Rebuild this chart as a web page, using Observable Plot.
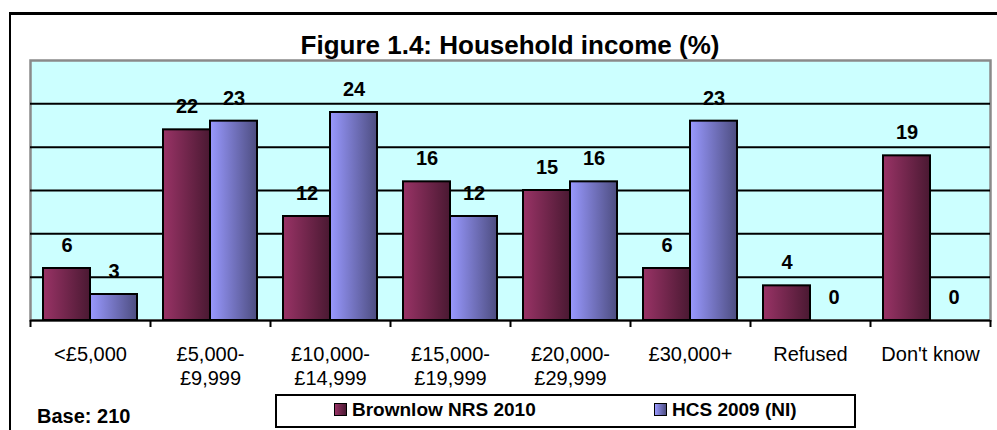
<!DOCTYPE html>
<html>
<head>
<meta charset="utf-8">
<script src="https://cdn.jsdelivr.net/npm/d3@7"></script>
<script src="https://cdn.jsdelivr.net/npm/@observablehq/plot@0.6"></script>
<style>
  html, body { margin: 0; padding: 0; background: #fff; }
  body { width: 997px; height: 430px; overflow: hidden; font-family: Arial, "Liberation Sans", sans-serif; }
  #wrap { position: relative; width: 997px; height: 430px; }
  #border { position: absolute; left: 9px; top: 12px; width: 1100px; height: 600px; border-top: 3px solid #000; border-left: 2px solid #000; }
  #head { position: relative; height: 59px; }
  #title { position: absolute; left: 0; width: 1020px; top: 32px; text-align: center; font-size: 26px; line-height: 26px; font-weight: bold; color: #000; }
  #chart { position: relative; }
  #legend { position: absolute; left: 275px; top: 394px; width: 581px; height: 34px; border: 2px solid #000; box-sizing: border-box; background: #fff; }
  .sw { position: absolute; width: 13px; height: 13px; border: 1.5px solid #000; box-sizing: border-box; top: 403px; }
  .lt { position: absolute; top: 400px; font-size: 19px; line-height: 20px; font-weight: bold; color: #000; white-space: nowrap; }
  #base { position: absolute; left: 37px; top: 406px; font-size: 20px; line-height: 20px; font-weight: bold; color: #000; }
</style>
</head>
<body>
<div id="wrap">
  <div id="border"></div>
  <div id="head"><div id="title">Figure 1.4: Household income (%)</div></div>
  <div id="chart"></div>
  <div id="legend"></div>
  <div class="sw" id="sw1" style="left:334px;background:linear-gradient(to right,#993366,#4a1932);"></div>
  <div class="lt" id="lt1" style="left:352px;"></div>
  <div class="sw" id="sw2" style="left:654px;background:linear-gradient(to right,#9999ff,#4d4d80);"></div>
  <div class="lt" id="lt2" style="left:672px;"></div>
  <div id="base">Base: 210</div>
</div>
<script>
const categories = ["<£5,000", "£5,000-£9,999", "£10,000-£14,999", "£15,000-£19,999", "£20,000-£29,999", "£30,000+", "Refused", "Don't know"];
const tickLabels = ["<£5,000", "£5,000-\n£9,999", "£10,000-\n£14,999", "£15,000-\n£19,999", "£20,000-\n£29,999", "£30,000+", "Refused", "Don't know"];
const seriesNames = ["Brownlow NRS 2010", "HCS 2009 (NI)"];
const brownlow = [6, 22, 12, 16, 15, 6, 4, 19];
const hcs = [3, 23, 24, 12, 16, 23, 0, 0];
const yGrid = [5, 10, 15, 20, 25];

document.getElementById("lt1").textContent = seriesNames[0];
document.getElementById("lt2").textContent = seriesNames[1];

const rowsB = categories.map((c, i) => ({category: c, value: brownlow[i]}));
const rowsH = categories.map((c, i) => ({category: c, value: hcs[i]}));

const svg = Plot.plot({
  width: 997,
  height: 341,
  marginTop: 1,
  marginBottom: 80,
  marginLeft: 30,
  marginRight: 7,
  style: {fontFamily: "Arial, 'Liberation Sans', sans-serif", background: "transparent", color: "#000", overflow: "visible"},
  x: {domain: categories, padding: 0, axis: null, label: null},
  y: {domain: [0, 30], axis: null},
  marks: [
    Plot.frame({fill: "#ccffff", stroke: "#8a8a8a", strokeWidth: 2.5}),
    Plot.ruleY(yGrid, {stroke: "#000", strokeWidth: 2}),
    Plot.barY(rowsB, {x: "category", y: "value", fill: "url(#gB)", stroke: "#000", strokeWidth: 2, insetLeft: 13, insetRight: 60}),
    Plot.barY(rowsH, {x: "category", y: "value", fill: "url(#gH)", stroke: "#000", strokeWidth: 2, insetLeft: 60, insetRight: 13}),
    Plot.ruleY([0], {stroke: "#000", strokeWidth: 2}),
    Plot.text(rowsB, {x: "category", y: "value", text: d => String(d.value), dx: -23.5, dy: -23, fontSize: 20, fontWeight: "bold", fill: "#000"}),
    Plot.text(rowsH, {x: "category", y: "value", text: d => String(d.value), dx: 23.5, dy: -23, fontSize: 20, fontWeight: "bold", fill: "#000"}),
    Plot.axisX({label: null, tickSize: 0, tickPadding: 23, fontSize: 20, lineHeight: 1.2, tickFormat: d => tickLabels[categories.indexOf(d)], fill: "#000"}),
    Plot.axisX({label: null, tickSize: 7, tickFormat: () => "", dx: -60, stroke: "#000", strokeWidth: 2}),
    Plot.axisX([categories[categories.length - 1]], {label: null, tickSize: 7, tickFormat: () => "", dx: 60, stroke: "#000", strokeWidth: 2})
  ]
});

const ns = "http://www.w3.org/2000/svg";
const defs = document.createElementNS(ns, "defs");
function grad(id, c1, c2) {
  const g = document.createElementNS(ns, "linearGradient");
  g.setAttribute("id", id);
  g.setAttribute("x1", "0"); g.setAttribute("x2", "1");
  g.setAttribute("y1", "0"); g.setAttribute("y2", "0");
  [[0, c1], [1, c2]].forEach(([o, c]) => {
    const s = document.createElementNS(ns, "stop");
    s.setAttribute("offset", o);
    s.setAttribute("stop-color", c);
    g.appendChild(s);
  });
  defs.appendChild(g);
}
grad("gB", "#993366", "#4a1932");
grad("gH", "#9999ff", "#4d4d80");
svg.insertBefore(defs, svg.firstChild);

document.getElementById("chart").appendChild(svg);
</script>
</body>
</html>
